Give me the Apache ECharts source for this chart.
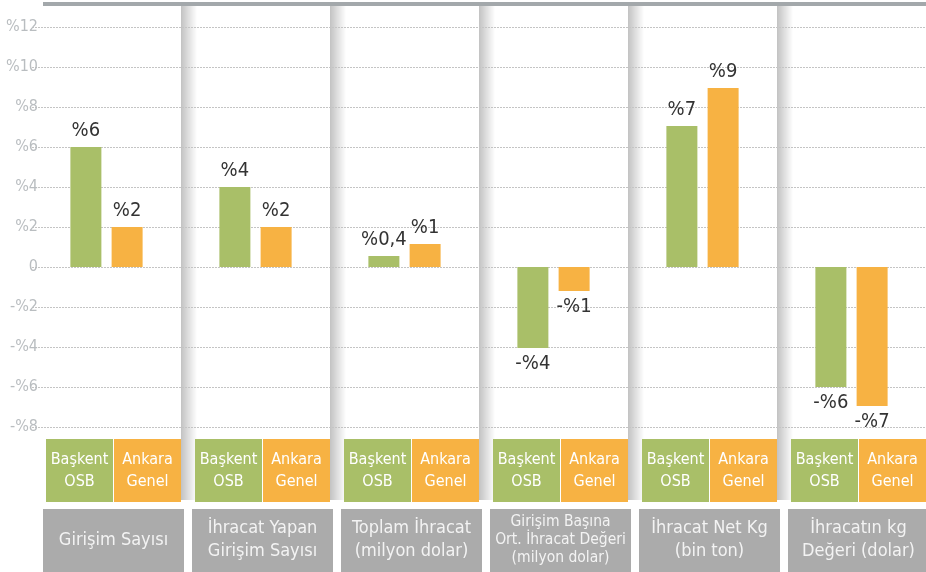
<!DOCTYPE html>
<html>
<head>
<meta charset="utf-8">
<script src="https://cdn.jsdelivr.net/npm/echarts@6/dist/echarts.min.js"></script>
<style>
  html, body { margin: 0; padding: 0; background: #fff; }
  #main { width: 926px; height: 572px; }
</style>
</head>
<body>
<div id="main"></div>
<script>
// veriler
const categories = ['Girişim Sayısı', 'İhracat Yapan\nGirişim Sayısı', 'Toplam İhracat\n(milyon dolar)',
  'Girişim Başına\nOrt. İhracat Değeri\n(milyon dolar)', 'İhracat Net Kg\n(bin ton)', 'İhracatın kg\nDeğeri (dolar)'];
const seriesNames = ['Başkent\nOSB', 'Ankara\nGenel'];
const osbValues = [6, 4, 0.55, -4.05, 7.05, -6];
const ankaraValues = [2, 2, 1.15, -1.2, 8.95, -6.95];
const osbLabels = ['%6', '%4', '%0,4', '-%4', '%7', '-%6'];
const ankaraLabels = ['%2', '%2', '%1', '-%1', '%9', '-%7'];
const yMin = -8, yMax = 12, yStep = 2;

const GREEN = '#a9bf68';
const ORANGE = '#f7b243';
const FONT = "'DejaVu Sans Condensed', 'Liberation Sans Narrow', 'Roboto', sans-serif";

const chart = echarts.init(document.getElementById('main'));

function barData(values, labels) {
  return values.map((v, i) => ({
    value: v,
    label: { position: v < 0 ? 'bottom' : 'top', formatter: labels[i] }
  }));
}

const barLabel = { show: true, color: '#333', fontSize: 20, fontFamily: FONT, distance: 6 };

chart.setOption({
  animation: false,
  grid: { left: 32, right: 0, top: 27, height: 400 },
  xAxis: {
    type: 'category',
    data: categories,
    axisLine: { show: false },
    axisTick: { show: false },
    axisLabel: { show: false }
  },
  yAxis: {
    type: 'value',
    min: yMin, max: yMax, interval: yStep,
    axisLine: { show: false },
    axisTick: { show: false },
    axisLabel: {
      color: '#b9bdc0', fontSize: 16, fontFamily: FONT, margin: -6,
      formatter: v => v === 0 ? '0' : (v < 0 ? '-%' + (-v) : '%' + v)
    },
    splitLine: { lineStyle: { color: '#c4c4c4', type: [2, 1], width: 1 } }
  },
  series: [
    { name: seriesNames[0], type: 'bar', barWidth: 31, barGap: '33%',
      itemStyle: { color: GREEN }, label: barLabel, data: barData(osbValues, osbLabels) },
    { name: seriesNames[1], type: 'bar', barWidth: 31,
      itemStyle: { color: ORANGE }, label: barLabel, data: barData(ankaraValues, ankaraLabels) }
  ]
});

// paneller, açıklama kutuları, kategori kutuları
function panelElements() {
  const els = [];
  const px = i => chart.convertToPixel({ xAxisIndex: 0 }, i);
  const step = px(1) - px(0);
  els.push({ type: 'rect', z: 5, shape: { x: 43, y: 2, width: 883, height: 4 }, style: { fill: '#a3a8ab' } });
  categories.forEach((name, i) => {
    const right = Math.round(px(i) + step / 2);
    if (i < categories.length - 1) {
      els.push({
        type: 'rect', z: -10, shape: { x: right, y: 6, width: 16, height: 494 },
        style: { fill: new echarts.graphic.LinearGradient(0, 0, 1, 0, [
          { offset: 0, color: 'rgba(0,0,0,0.24)' }, { offset: 1, color: 'rgba(0,0,0,0)' }]) }
      });
    }
    const boxL = right - 135;
    [GREEN, ORANGE].forEach((c, k) => {
      const x = boxL + k * 68;
      els.push({ type: 'rect', z: 5, shape: { x: x, y: 439, width: 67, height: 63 }, style: { fill: c } });
      els.push({ type: 'text', z: 6, x: x + 33.5, y: 470.5,
        style: { text: seriesNames[k], fill: '#fff', font: '16px ' + FONT, lineHeight: 22,
          align: 'center', verticalAlign: 'middle', textAlign: 'center', textVerticalAlign: 'middle' } });
    });
    const lines = name.split('\n').length;
    els.push({ type: 'rect', z: 5, shape: { x: right - 138, y: 509, width: 141, height: 63 }, style: { fill: '#ababab' } });
    els.push({ type: 'text', z: 6, x: right - 67.5, y: 540,
      style: { text: name, fill: '#f3f3f3', font: (lines > 2 ? '15.5px ' : '18px ') + FONT,
        lineHeight: lines > 2 ? 18 : 23,
        align: 'center', verticalAlign: 'middle', textAlign: 'center', textVerticalAlign: 'middle' } });
  });
  return els;
}

chart.setOption({ graphic: { elements: panelElements() } });
</script>
</body>
</html>
